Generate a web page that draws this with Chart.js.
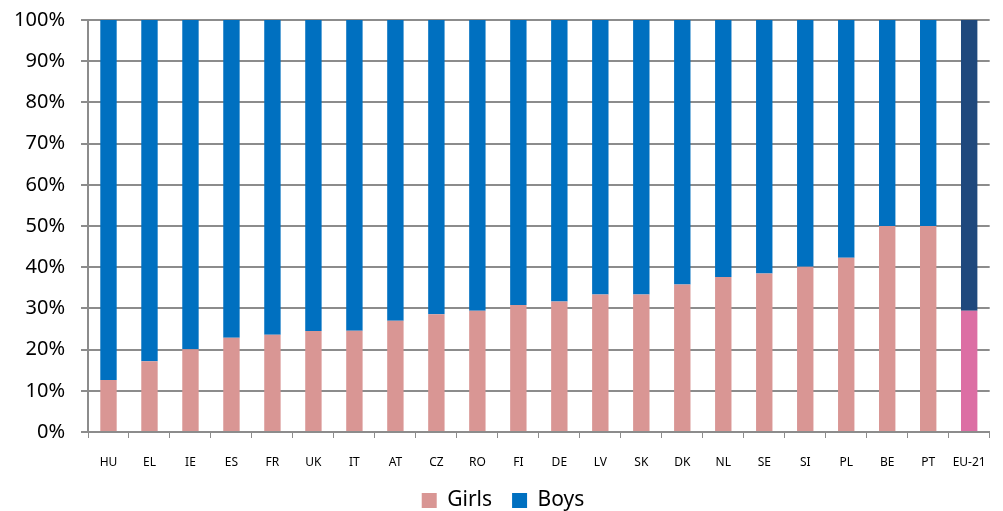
<!DOCTYPE html>
<html>
<head>
<meta charset="utf-8">
<script src="https://cdn.jsdelivr.net/npm/chart.js@4/dist/chart.umd.min.js"></script>
<style>
  html, body { margin: 0; padding: 0; background: #fff; }
  #wrap { width: 1003px; height: 511px; position: relative; }
</style>
</head>
<body>
<div id="wrap"><canvas id="chart"></canvas></div>
<script>
// Datos (porcentaje)
const countries = ['HU', 'EL', 'IE', 'ES', 'FR', 'UK', 'IT', 'AT', 'CZ', 'RO', 'FI',
                   'DE', 'LV', 'SK', 'DK', 'NL', 'SE', 'SI', 'PL', 'BE', 'PT', 'EU-21'];
const girls = [12.6, 17.2, 20.1, 22.9, 23.6, 24.5, 24.6, 27.0, 28.6, 29.4, 30.8,
               31.7, 33.4, 33.4, 35.8, 37.6, 38.5, 40.1, 42.3, 50.0, 50.0, 29.4];
const boys = [87.4, 82.8, 79.9, 77.1, 76.4, 75.5, 75.4, 73.0, 71.4, 70.6, 69.2,
              68.3, 66.6, 66.6, 64.2, 62.4, 61.5, 59.9, 57.7, 50.0, 50.0, 70.6];
const yTicks = [0, 10, 20, 30, 40, 50, 60, 70, 80, 90, 100];

const lastIdx = countries.length - 1;
const gridColor = '#8c8c8c';
const fontFam = "'Noto Sans', 'Liberation Sans', sans-serif";

// Altura fija de la leyenda y pequeño desplazamiento a la derecha
const legendTweak = {
  id: 'legendTweak',
  beforeInit(chart) {
    const origFit = chart.legend.fit;
    chart.legend.fit = function () {
      origFit.call(this);
      this.height = 41;
    };
  },
  afterLayout(chart) {
    chart.legend.left += 8;
    chart.legend.right += 8;
  }
};

new Chart(document.getElementById('chart'), {
  type: 'bar',
  data: {
    labels: countries,
    datasets: [
      {
        label: 'Girls',
        data: girls,
        backgroundColor: ctx => ctx.dataIndex === lastIdx ? '#DC6EA4' : '#D99694',
        borderWidth: 0
      },
      {
        label: 'Boys',
        data: boys,
        backgroundColor: ctx => ctx.dataIndex === lastIdx ? '#1F497D' : '#0070C0',
        borderWidth: 0
      }
    ]
  },
  plugins: [legendTweak],
  options: {
    responsive: true,
    maintainAspectRatio: false,
    animation: false,
    layout: { padding: { top: 0, right: 13, left: 0, bottom: 0 } },
    datasets: { bar: { barPercentage: 0.4, categoryPercentage: 1.0 } },
    scales: {
      x: {
        stacked: true,
        grid: { drawOnChartArea: false, color: gridColor, tickLength: 6, offset: true },
        border: { color: gridColor, width: 2 },
        ticks: { color: '#000', font: { family: fontFam, size: 12 }, padding: 17, maxRotation: 0, autoSkip: false },
        afterFit: scale => { scale.height = 38; }
      },
      y: {
        stacked: true,
        min: 0,
        max: 100,
        afterBuildTicks: scale => { scale.ticks = yTicks.map(v => ({ value: v })); },
        grid: { color: gridColor, lineWidth: 2, tickLength: 7 },
        border: { color: gridColor, width: 2 },
        ticks: { color: '#000', font: { family: fontFam, size: 20 }, padding: 16, callback: v => v + '%' },
        afterFit: scale => {
          scale.width = 88;
          scale.paddingTop = 20;
        }
      }
    },
    plugins: {
      legend: {
        position: 'bottom',
        labels: { color: '#000', font: { family: fontFam, size: 21 }, boxWidth: 15, boxHeight: 15, padding: 20 }
      },
      tooltip: { enabled: false }
    }
  }
});
</script>
</body>
</html>
